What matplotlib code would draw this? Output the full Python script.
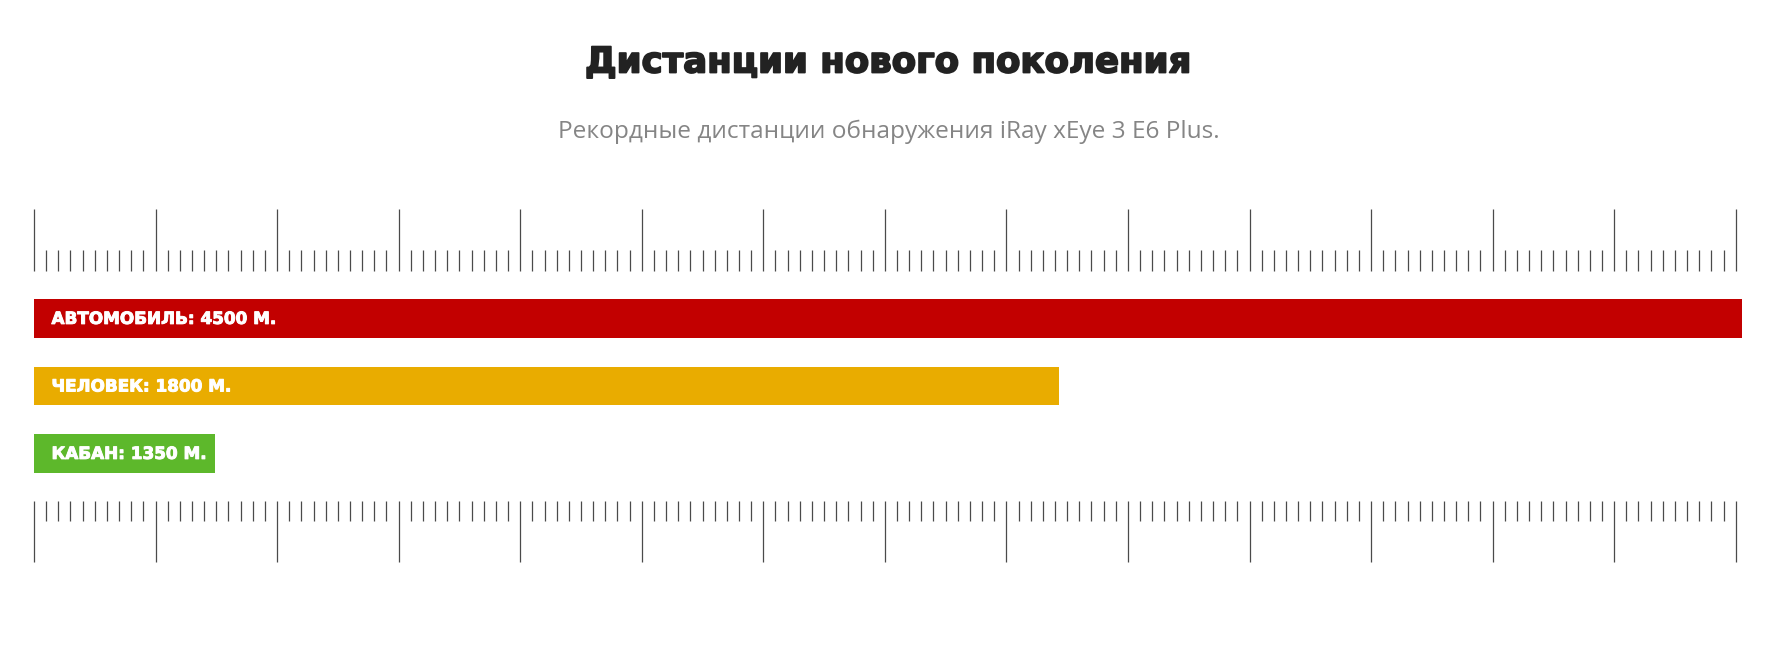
import matplotlib
matplotlib.use("Agg")
import matplotlib.pyplot as plt
import matplotlib.patheffects as pe
import numpy as np

# ---- data ----
categories = ["АВТОМОБИЛЬ", "ЧЕЛОВЕК", "КАБАН"]
distances_m = [4500, 1800, 1350]
# drawn length of each bar on the ruler (in major divisions, ruler spans 0..14)
bar_extent = [14.05, 8.43, 1.49]
bar_colors = ["#c20000", "#e9ac00", "#5db82b"]
title = "Дистанции нового поколения"
subtitle = "Рекордные дистанции обнаружения iRay xEye 3 E6 Plus."

W, H = 1767, 656
fig = plt.figure(figsize=(W / 100, H / 100), dpi=100)
ax = fig.add_axes([0, 0, 1, 1])
unit = (1735.7 - 34) / 14.0
ax.set_xlim(-34 / unit, (W - 34) / unit)
ax.set_ylim(H, 0)
ax.axis("off")

n_major = 14
majors = np.arange(0, n_major + 1)
minors = np.array([m + k / 10 for m in range(n_major) for k in range(1, 10)])
tick_color = "#4a4a4a"
lw = 0.9
ax.vlines(majors, 209, 271, color=tick_color, lw=lw)
ax.vlines(minors, 250, 271, color=tick_color, lw=lw)
ax.vlines(majors, 501, 562, color=tick_color, lw=lw)
ax.vlines(minors, 501, 521, color=tick_color, lw=lw)

bar_y = [318.4, 386.0, 453.4]
ax.barh(bar_y, bar_extent, left=0, height=38.7, color=bar_colors, edgecolor="none")
labels = []
for y, c, d in zip(bar_y, categories, distances_m):
    labels.append(ax.text(17.5 / unit, y + 0.5, f"{c}: {d} М.", color="white", fontsize=12,
                          fontweight="bold", family=["DejaVu Sans"], va="center", ha="left",
                          path_effects=[pe.withStroke(linewidth=0.7, foreground="white")]))

t = fig.text(888 / W, 1 - 62.5 / H, title, ha="center", va="center", fontsize=22,
             fontweight="bold", family=["DejaVu Sans"], color="#222222",
             path_effects=[pe.withStroke(linewidth=1.3, foreground="#222222")])
s = fig.text(889 / W, 1 - 132 / H, subtitle, ha="center", va="center", fontsize=16,
             fontweight="normal", family=["Open Sans", "DejaVu Sans"], color="#858585")

# fit text widths to the reference layout
fig.canvas.draw()
r = fig.canvas.get_renderer()
def fit(txt, target):
    w = txt.get_window_extent(r).width
    return txt.get_fontsize() * target / w
t.set_fontsize(fit(t, 604))
s.set_fontsize(fit(s, 660))
fs = fit(labels[0], 224)
for l in labels:
    l.set_fontsize(fs)

fig.savefig("out.png", dpi=100, facecolor="white")
